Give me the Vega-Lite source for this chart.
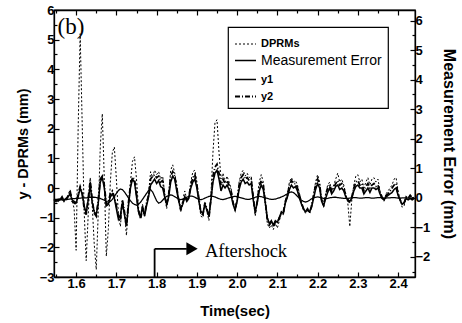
{
  "$schema": "https://vega.github.io/schema/vega-lite/v6.json",
  "width": 361,
  "height": 267,
  "autosize": {"type": "none"},
  "padding": {"left": 54, "top": 10, "right": 47, "bottom": 46},
  "background": "white",
  "config": {
    "view": {"stroke": "black", "strokeWidth": 1.3},
    "axis": {
      "domainColor": "black", "domainWidth": 1.3, "tickColor": "black", "tickWidth": 1.2,
      "labelColor": "black", "titleColor": "black",
      "labelFont": "Liberation Sans", "titleFont": "Liberation Sans",
      "labelFontWeight": "bold", "titleFontWeight": "bold",
      "labelFontSize": 13, "titleFontSize": 15, "grid": false, "labelOverlap": false
    },
    "legend": {
      "orient": "none", "legendX": 174, "legendY": 17,
      "strokeColor": "black", "strokeWidth": 1.2, "fillColor": "white",
      "padding": 6, "symbolType": "stroke", "symbolStrokeColor": "black",
      "symbolSize": 441, "labelFont": "Liberation Sans", "labelColor": "black",
      "labelFontSize": 11, "labelFontWeight": "bold", "rowPadding": 0, "labelOffset": 4
    }
  },
  "datasets": {
    "sig": [
      {"t":1.545,"DPRMs":-0.40,"y1":-0.42,"y2":-0.38,"Measurement Error":-0.05},
      {"t":1.550,"DPRMs":-0.45,"y1":-0.40,"y2":-0.45,"Measurement Error":-0.05},
      {"t":1.555,"DPRMs":-0.35,"y1":-0.45,"y2":-0.35,"Measurement Error":-0.06},
      {"t":1.560,"DPRMs":-0.42,"y1":-0.38,"y2":-0.40,"Measurement Error":-0.05},
      {"t":1.565,"DPRMs":-0.30,"y1":-0.40,"y2":-0.30,"Measurement Error":-0.04},
      {"t":1.570,"DPRMs":-0.45,"y1":-0.42,"y2":-0.45,"Measurement Error":-0.05},
      {"t":1.575,"DPRMs":-0.40,"y1":-0.35,"y2":-0.42,"Measurement Error":-0.06},
      {"t":1.580,"DPRMs":-0.25,"y1":-0.30,"y2":-0.25,"Measurement Error":-0.05},
      {"t":1.585,"DPRMs":-0.05,"y1":-0.20,"y2":-0.10,"Measurement Error":-0.04},
      {"t":1.590,"DPRMs":-0.40,"y1":-0.40,"y2":-0.45,"Measurement Error":-0.03},
      {"t":1.595,"DPRMs":-0.70,"y1":-0.45,"y2":-0.50,"Measurement Error":-0.03},
      {"t":1.600,"DPRMs":-2.10,"y1":-0.50,"y2":-0.55,"Measurement Error":-0.02},
      {"t":1.605,"DPRMs":2.00,"y1":-0.30,"y2":-0.20,"Measurement Error":-0.02},
      {"t":1.610,"DPRMs":5.20,"y1":0.00,"y2":0.05,"Measurement Error":-0.01},
      {"t":1.615,"DPRMs":2.20,"y1":-0.20,"y2":-0.15,"Measurement Error":0.00},
      {"t":1.620,"DPRMs":-0.80,"y1":-0.60,"y2":-0.70,"Measurement Error":0.00},
      {"t":1.625,"DPRMs":-2.45,"y1":-0.85,"y2":-0.90,"Measurement Error":0.00},
      {"t":1.630,"DPRMs":-0.90,"y1":-0.40,"y2":-0.35,"Measurement Error":0.01},
      {"t":1.635,"DPRMs":0.35,"y1":0.10,"y2":0.25,"Measurement Error":0.02},
      {"t":1.640,"DPRMs":-0.60,"y1":-0.50,"y2":-0.40,"Measurement Error":0.02},
      {"t":1.645,"DPRMs":-1.90,"y1":-0.80,"y2":-0.85,"Measurement Error":0.02},
      {"t":1.650,"DPRMs":-2.75,"y1":-0.90,"y2":-0.95,"Measurement Error":0.01},
      {"t":1.655,"DPRMs":-0.80,"y1":-0.50,"y2":-0.40,"Measurement Error":0.00},
      {"t":1.660,"DPRMs":1.40,"y1":0.20,"y2":0.30,"Measurement Error":-0.02},
      {"t":1.665,"DPRMs":2.50,"y1":0.35,"y2":0.40,"Measurement Error":-0.05},
      {"t":1.670,"DPRMs":0.30,"y1":0.00,"y2":0.10,"Measurement Error":-0.08},
      {"t":1.675,"DPRMs":-2.30,"y1":-0.60,"y2":-0.55,"Measurement Error":-0.12},
      {"t":1.680,"DPRMs":-1.40,"y1":-0.55,"y2":-0.45,"Measurement Error":-0.15},
      {"t":1.685,"DPRMs":0.20,"y1":-0.30,"y2":-0.20,"Measurement Error":-0.12},
      {"t":1.690,"DPRMs":1.20,"y1":-0.20,"y2":-0.10,"Measurement Error":-0.05},
      {"t":1.695,"DPRMs":1.38,"y1":-0.35,"y2":-0.30,"Measurement Error":0.05},
      {"t":1.700,"DPRMs":0.30,"y1":-0.70,"y2":-0.60,"Measurement Error":0.15},
      {"t":1.705,"DPRMs":-0.90,"y1":-1.05,"y2":-0.95,"Measurement Error":0.25},
      {"t":1.710,"DPRMs":-1.30,"y1":-0.90,"y2":-1.10,"Measurement Error":0.30},
      {"t":1.715,"DPRMs":-0.40,"y1":-0.50,"y2":-0.40,"Measurement Error":0.28},
      {"t":1.720,"DPRMs":-0.80,"y1":-0.90,"y2":-0.80,"Measurement Error":0.20},
      {"t":1.725,"DPRMs":-1.60,"y1":-1.25,"y2":-1.30,"Measurement Error":0.10},
      {"t":1.730,"DPRMs":-0.60,"y1":-0.60,"y2":-0.50,"Measurement Error":0.00},
      {"t":1.735,"DPRMs":0.20,"y1":0.00,"y2":0.10,"Measurement Error":-0.10},
      {"t":1.740,"DPRMs":0.90,"y1":0.30,"y2":0.35,"Measurement Error":-0.18},
      {"t":1.745,"DPRMs":1.05,"y1":0.20,"y2":0.30,"Measurement Error":-0.22},
      {"t":1.750,"DPRMs":0.30,"y1":-0.30,"y2":-0.20,"Measurement Error":-0.25},
      {"t":1.755,"DPRMs":-0.70,"y1":-0.80,"y2":-0.75,"Measurement Error":-0.22},
      {"t":1.760,"DPRMs":-1.00,"y1":-1.00,"y2":-1.05,"Measurement Error":-0.15},
      {"t":1.765,"DPRMs":-0.55,"y1":-0.60,"y2":-0.70,"Measurement Error":-0.05},
      {"t":1.770,"DPRMs":-0.95,"y1":-0.95,"y2":-0.90,"Measurement Error":0.05},
      {"t":1.775,"DPRMs":-0.50,"y1":-0.60,"y2":-0.50,"Measurement Error":0.15},
      {"t":1.780,"DPRMs":-0.20,"y1":-0.30,"y2":-0.25,"Measurement Error":0.25},
      {"t":1.785,"DPRMs":0.55,"y1":0.10,"y2":0.30,"Measurement Error":0.28},
      {"t":1.790,"DPRMs":0.35,"y1":0.20,"y2":0.40,"Measurement Error":0.20},
      {"t":1.795,"DPRMs":0.60,"y1":0.30,"y2":0.45,"Measurement Error":0.05},
      {"t":1.800,"DPRMs":0.45,"y1":0.15,"y2":0.35,"Measurement Error":-0.10},
      {"t":1.805,"DPRMs":0.55,"y1":0.25,"y2":0.40,"Measurement Error":-0.18},
      {"t":1.810,"DPRMs":0.30,"y1":0.05,"y2":0.20,"Measurement Error":-0.15},
      {"t":1.815,"DPRMs":0.40,"y1":0.00,"y2":0.25,"Measurement Error":-0.08},
      {"t":1.820,"DPRMs":-0.20,"y1":-0.30,"y2":-0.25,"Measurement Error":0.00},
      {"t":1.825,"DPRMs":-0.70,"y1":-0.55,"y2":-0.60,"Measurement Error":0.05},
      {"t":1.830,"DPRMs":-0.20,"y1":-0.30,"y2":-0.20,"Measurement Error":0.08},
      {"t":1.835,"DPRMs":0.60,"y1":0.20,"y2":0.40,"Measurement Error":0.10},
      {"t":1.840,"DPRMs":0.78,"y1":0.40,"y2":0.55,"Measurement Error":0.08},
      {"t":1.845,"DPRMs":0.50,"y1":0.30,"y2":0.40,"Measurement Error":0.04},
      {"t":1.850,"DPRMs":0.10,"y1":-0.10,"y2":0.00,"Measurement Error":0.00},
      {"t":1.855,"DPRMs":-0.40,"y1":-0.45,"y2":-0.40,"Measurement Error":-0.04},
      {"t":1.860,"DPRMs":-0.80,"y1":-0.70,"y2":-0.75,"Measurement Error":-0.06},
      {"t":1.865,"DPRMs":-0.40,"y1":-0.55,"y2":-0.50,"Measurement Error":-0.05},
      {"t":1.870,"DPRMs":-0.10,"y1":-0.30,"y2":-0.25,"Measurement Error":-0.02},
      {"t":1.875,"DPRMs":-0.40,"y1":-0.45,"y2":-0.40,"Measurement Error":0.02},
      {"t":1.880,"DPRMs":-0.30,"y1":-0.35,"y2":-0.30,"Measurement Error":0.05},
      {"t":1.885,"DPRMs":0.20,"y1":0.00,"y2":0.10,"Measurement Error":0.06},
      {"t":1.890,"DPRMs":0.55,"y1":0.20,"y2":0.35,"Measurement Error":0.05},
      {"t":1.895,"DPRMs":0.60,"y1":0.30,"y2":0.45,"Measurement Error":0.02},
      {"t":1.900,"DPRMs":0.20,"y1":0.00,"y2":0.10,"Measurement Error":-0.02},
      {"t":1.905,"DPRMs":-0.40,"y1":-0.45,"y2":-0.35,"Measurement Error":-0.05},
      {"t":1.910,"DPRMs":-0.95,"y1":-0.80,"y2":-0.85,"Measurement Error":-0.06},
      {"t":1.915,"DPRMs":-1.00,"y1":-0.85,"y2":-0.90,"Measurement Error":-0.04},
      {"t":1.920,"DPRMs":-0.50,"y1":-0.55,"y2":-0.50,"Measurement Error":-0.01},
      {"t":1.925,"DPRMs":-0.80,"y1":-0.75,"y2":-0.70,"Measurement Error":0.02},
      {"t":1.930,"DPRMs":-1.10,"y1":-0.95,"y2":-1.00,"Measurement Error":0.05},
      {"t":1.935,"DPRMs":-0.20,"y1":-0.40,"y2":-0.35,"Measurement Error":0.06},
      {"t":1.940,"DPRMs":1.20,"y1":0.20,"y2":0.40,"Measurement Error":0.05},
      {"t":1.945,"DPRMs":2.20,"y1":0.50,"y2":0.70,"Measurement Error":0.03},
      {"t":1.950,"DPRMs":2.30,"y1":0.60,"y2":0.80,"Measurement Error":0.00},
      {"t":1.955,"DPRMs":1.20,"y1":0.30,"y2":0.50,"Measurement Error":-0.03},
      {"t":1.960,"DPRMs":0.30,"y1":-0.10,"y2":0.10,"Measurement Error":-0.05},
      {"t":1.965,"DPRMs":0.50,"y1":0.10,"y2":0.30,"Measurement Error":-0.06},
      {"t":1.970,"DPRMs":0.20,"y1":0.00,"y2":0.15,"Measurement Error":-0.04},
      {"t":1.975,"DPRMs":0.40,"y1":0.10,"y2":0.25,"Measurement Error":-0.02},
      {"t":1.980,"DPRMs":0.20,"y1":-0.05,"y2":0.10,"Measurement Error":0.00},
      {"t":1.985,"DPRMs":0.00,"y1":-0.25,"y2":-0.10,"Measurement Error":0.02},
      {"t":1.990,"DPRMs":-0.50,"y1":-0.55,"y2":-0.50,"Measurement Error":0.04},
      {"t":1.995,"DPRMs":-0.80,"y1":-0.75,"y2":-0.70,"Measurement Error":0.05},
      {"t":2.000,"DPRMs":-0.40,"y1":-0.45,"y2":-0.40,"Measurement Error":0.04},
      {"t":2.005,"DPRMs":0.20,"y1":-0.05,"y2":0.10,"Measurement Error":0.02},
      {"t":2.010,"DPRMs":0.50,"y1":0.20,"y2":0.35,"Measurement Error":0.00},
      {"t":2.015,"DPRMs":0.60,"y1":0.30,"y2":0.45,"Measurement Error":-0.02},
      {"t":2.020,"DPRMs":0.40,"y1":0.15,"y2":0.30,"Measurement Error":-0.04},
      {"t":2.025,"DPRMs":0.50,"y1":0.20,"y2":0.35,"Measurement Error":-0.05},
      {"t":2.030,"DPRMs":0.35,"y1":0.10,"y2":0.25,"Measurement Error":-0.05},
      {"t":2.035,"DPRMs":0.40,"y1":0.15,"y2":0.30,"Measurement Error":-0.03},
      {"t":2.040,"DPRMs":-0.30,"y1":-0.40,"y2":-0.30,"Measurement Error":-0.01},
      {"t":2.045,"DPRMs":-0.95,"y1":-0.80,"y2":-0.85,"Measurement Error":0.02},
      {"t":2.050,"DPRMs":-0.40,"y1":-0.50,"y2":-0.45,"Measurement Error":0.04},
      {"t":2.055,"DPRMs":0.20,"y1":-0.10,"y2":0.05,"Measurement Error":0.05},
      {"t":2.060,"DPRMs":0.45,"y1":0.10,"y2":0.25,"Measurement Error":0.04},
      {"t":2.065,"DPRMs":0.20,"y1":-0.05,"y2":0.10,"Measurement Error":0.02},
      {"t":2.070,"DPRMs":-0.50,"y1":-0.50,"y2":-0.45,"Measurement Error":0.00},
      {"t":2.075,"DPRMs":-1.20,"y1":-1.00,"y2":-1.05,"Measurement Error":-0.02},
      {"t":2.080,"DPRMs":-1.35,"y1":-1.20,"y2":-1.25,"Measurement Error":-0.04},
      {"t":2.085,"DPRMs":-1.25,"y1":-1.10,"y2":-1.15,"Measurement Error":-0.05},
      {"t":2.090,"DPRMs":-1.40,"y1":-1.25,"y2":-1.30,"Measurement Error":-0.05},
      {"t":2.095,"DPRMs":-1.20,"y1":-1.10,"y2":-1.15,"Measurement Error":-0.04},
      {"t":2.100,"DPRMs":-1.35,"y1":-1.15,"y2":-1.20,"Measurement Error":-0.02},
      {"t":2.105,"DPRMs":-1.10,"y1":-1.00,"y2":-1.00,"Measurement Error":0.00},
      {"t":2.110,"DPRMs":-0.85,"y1":-0.80,"y2":-0.85,"Measurement Error":0.03},
      {"t":2.115,"DPRMs":-0.90,"y1":-0.85,"y2":-0.80,"Measurement Error":0.06},
      {"t":2.120,"DPRMs":-0.40,"y1":-0.50,"y2":-0.45,"Measurement Error":0.10},
      {"t":2.125,"DPRMs":-0.20,"y1":-0.30,"y2":-0.25,"Measurement Error":0.14},
      {"t":2.130,"DPRMs":0.20,"y1":-0.05,"y2":0.10,"Measurement Error":0.18},
      {"t":2.135,"DPRMs":0.35,"y1":0.10,"y2":0.25,"Measurement Error":0.20},
      {"t":2.140,"DPRMs":0.20,"y1":0.00,"y2":0.15,"Measurement Error":0.18},
      {"t":2.145,"DPRMs":0.25,"y1":0.05,"y2":0.15,"Measurement Error":0.12},
      {"t":2.150,"DPRMs":0.10,"y1":-0.10,"y2":0.00,"Measurement Error":0.05},
      {"t":2.155,"DPRMs":-0.20,"y1":-0.35,"y2":-0.25,"Measurement Error":-0.02},
      {"t":2.160,"DPRMs":-0.50,"y1":-0.55,"y2":-0.50,"Measurement Error":-0.08},
      {"t":2.165,"DPRMs":-0.75,"y1":-0.70,"y2":-0.70,"Measurement Error":-0.12},
      {"t":2.170,"DPRMs":-0.85,"y1":-0.80,"y2":-0.80,"Measurement Error":-0.14},
      {"t":2.175,"DPRMs":-0.70,"y1":-0.75,"y2":-0.70,"Measurement Error":-0.12},
      {"t":2.180,"DPRMs":-0.85,"y1":-0.80,"y2":-0.85,"Measurement Error":-0.08},
      {"t":2.185,"DPRMs":-0.60,"y1":-0.65,"y2":-0.60,"Measurement Error":-0.03},
      {"t":2.190,"DPRMs":-0.20,"y1":-0.35,"y2":-0.25,"Measurement Error":0.00},
      {"t":2.195,"DPRMs":0.20,"y1":-0.05,"y2":0.10,"Measurement Error":0.02},
      {"t":2.200,"DPRMs":0.45,"y1":0.15,"y2":0.30,"Measurement Error":0.03},
      {"t":2.205,"DPRMs":0.20,"y1":0.00,"y2":0.10,"Measurement Error":0.02},
      {"t":2.210,"DPRMs":-0.40,"y1":-0.45,"y2":-0.40,"Measurement Error":0.00},
      {"t":2.215,"DPRMs":-0.65,"y1":-0.60,"y2":-0.55,"Measurement Error":-0.02},
      {"t":2.220,"DPRMs":-0.20,"y1":-0.35,"y2":-0.25,"Measurement Error":-0.03},
      {"t":2.225,"DPRMs":0.10,"y1":-0.15,"y2":0.00,"Measurement Error":-0.02},
      {"t":2.230,"DPRMs":0.20,"y1":0.00,"y2":0.10,"Measurement Error":0.00},
      {"t":2.235,"DPRMs":-0.10,"y1":-0.20,"y2":-0.10,"Measurement Error":0.01},
      {"t":2.240,"DPRMs":0.10,"y1":-0.10,"y2":0.00,"Measurement Error":0.02},
      {"t":2.245,"DPRMs":0.30,"y1":0.05,"y2":0.15,"Measurement Error":0.02},
      {"t":2.250,"DPRMs":0.50,"y1":0.10,"y2":0.25,"Measurement Error":0.01},
      {"t":2.255,"DPRMs":0.20,"y1":-0.05,"y2":0.10,"Measurement Error":0.00},
      {"t":2.260,"DPRMs":0.30,"y1":0.00,"y2":0.15,"Measurement Error":-0.01},
      {"t":2.265,"DPRMs":0.10,"y1":-0.10,"y2":0.00,"Measurement Error":-0.02},
      {"t":2.270,"DPRMs":-0.20,"y1":-0.30,"y2":-0.25,"Measurement Error":-0.02},
      {"t":2.275,"DPRMs":-0.50,"y1":-0.40,"y2":-0.40,"Measurement Error":-0.02},
      {"t":2.280,"DPRMs":-1.30,"y1":-0.45,"y2":-0.50,"Measurement Error":-0.01},
      {"t":2.285,"DPRMs":-0.40,"y1":-0.35,"y2":-0.30,"Measurement Error":0.00},
      {"t":2.290,"DPRMs":0.10,"y1":-0.10,"y2":0.00,"Measurement Error":0.01},
      {"t":2.295,"DPRMs":0.40,"y1":0.05,"y2":0.20,"Measurement Error":0.01},
      {"t":2.300,"DPRMs":0.45,"y1":0.10,"y2":0.25,"Measurement Error":0.00},
      {"t":2.305,"DPRMs":0.20,"y1":0.00,"y2":0.10,"Measurement Error":-0.01},
      {"t":2.310,"DPRMs":0.30,"y1":0.00,"y2":0.15,"Measurement Error":-0.01},
      {"t":2.315,"DPRMs":0.00,"y1":-0.20,"y2":-0.10,"Measurement Error":0.00},
      {"t":2.320,"DPRMs":0.20,"y1":-0.10,"y2":0.05,"Measurement Error":0.01},
      {"t":2.325,"DPRMs":0.35,"y1":0.00,"y2":0.15,"Measurement Error":0.01},
      {"t":2.330,"DPRMs":0.10,"y1":-0.15,"y2":0.00,"Measurement Error":0.00},
      {"t":2.335,"DPRMs":0.30,"y1":0.00,"y2":0.10,"Measurement Error":-0.01},
      {"t":2.340,"DPRMs":0.35,"y1":0.00,"y2":0.15,"Measurement Error":-0.01},
      {"t":2.345,"DPRMs":0.20,"y1":-0.05,"y2":0.05,"Measurement Error":0.00},
      {"t":2.350,"DPRMs":0.30,"y1":0.00,"y2":0.10,"Measurement Error":0.01},
      {"t":2.355,"DPRMs":-0.10,"y1":-0.20,"y2":-0.15,"Measurement Error":0.01},
      {"t":2.360,"DPRMs":-0.30,"y1":-0.35,"y2":-0.30,"Measurement Error":0.00},
      {"t":2.365,"DPRMs":-0.45,"y1":-0.40,"y2":-0.40,"Measurement Error":-0.01},
      {"t":2.370,"DPRMs":-0.20,"y1":-0.30,"y2":-0.25,"Measurement Error":-0.01},
      {"t":2.375,"DPRMs":-0.10,"y1":-0.25,"y2":-0.20,"Measurement Error":0.00},
      {"t":2.380,"DPRMs":0.00,"y1":-0.20,"y2":-0.10,"Measurement Error":0.00},
      {"t":2.385,"DPRMs":0.10,"y1":-0.15,"y2":0.00,"Measurement Error":0.01},
      {"t":2.390,"DPRMs":0.30,"y1":-0.05,"y2":0.10,"Measurement Error":0.01},
      {"t":2.395,"DPRMs":0.35,"y1":0.00,"y2":0.15,"Measurement Error":0.00},
      {"t":2.400,"DPRMs":-0.10,"y1":-0.25,"y2":-0.20,"Measurement Error":-0.01},
      {"t":2.405,"DPRMs":-0.40,"y1":-0.40,"y2":-0.40,"Measurement Error":-0.01},
      {"t":2.410,"DPRMs":-0.65,"y1":-0.55,"y2":-0.55,"Measurement Error":0.00},
      {"t":2.415,"DPRMs":-0.60,"y1":-0.50,"y2":-0.50,"Measurement Error":0.00},
      {"t":2.420,"DPRMs":-0.30,"y1":-0.35,"y2":-0.30,"Measurement Error":0.00},
      {"t":2.425,"DPRMs":-0.40,"y1":-0.40,"y2":-0.35,"Measurement Error":-0.01},
      {"t":2.430,"DPRMs":-0.20,"y1":-0.35,"y2":-0.25,"Measurement Error":-0.01},
      {"t":2.435,"DPRMs":-0.35,"y1":-0.40,"y2":-0.35,"Measurement Error":0.00},
      {"t":2.440,"DPRMs":-0.30,"y1":-0.35,"y2":-0.30,"Measurement Error":0.00}
    ]
  },
  "layer": [
    {
      "data": {"name": "sig"},
      "transform": [{"fold": ["DPRMs", "y1", "y2"], "as": ["s", "v"]}],
      "mark": {"type": "line", "color": "black"},
      "encoding": {
        "x": {
          "field": "t", "type": "quantitative",
          "scale": {"domain": [1.545, 2.442], "nice": false, "zero": false},
          "axis": {
            "orient": "bottom", "title": "Time(sec)",
            "values": [1.55,1.6,1.65,1.7,1.75,1.8,1.85,1.9,1.95,2.0,2.05,2.1,2.15,2.2,2.25,2.3,2.35,2.4],
            "labelExpr": "abs(datum.value*10-round(datum.value*10))<0.001 ? format(datum.value,'.1f') : ''",
            "tickSize": {"condition": {"test": "abs(datum.value*10-round(datum.value*10))<0.001", "value": -5}, "value": -3},
            "labelPadding": 5, "titlePadding": 11, "titleFontSize": 15, "labelOverlap": false
          }
        },
        "y": {
          "field": "v", "type": "quantitative",
          "scale": {"domain": [-3, 6], "nice": false, "zero": false},
          "axis": {
            "orient": "left", "title": "y - DPRMs (mm)",
            "values": [-3,-2.5,-2,-1.5,-1,-0.5,0,0.5,1,1.5,2,2.5,3,3.5,4,4.5,5,5.5,6],
            "labelExpr": "abs(datum.value-round(datum.value))<0.001 ? format(datum.value,'d') : ''",
            "tickSize": {"condition": {"test": "abs(datum.value-round(datum.value))<0.001", "value": -5}, "value": -3},
            "labelPadding": 5, "titlePadding": 9, "titleFontSize": 14.5, "labelOverlap": false
          }
        },
        "strokeDash": {
          "field": "s", "type": "nominal",
          "scale": {"domain": ["DPRMs", "Measurement Error", "y1", "y2"], "range": [[2, 2], [1, 0], [1, 0], [5, 2, 1, 2]]},
          "legend": {
            "title": null,
            "encode": {"labels": {"update": {
              "fontSize": {"signal": "datum.label === 'Measurement Error' ? 14 : 11"},
              "fontWeight": {"signal": "datum.label === 'Measurement Error' ? 'normal' : 'bold'"}
            }}}
          }
        },
        "strokeWidth": {
          "field": "s", "type": "nominal",
          "scale": {"domain": ["DPRMs", "Measurement Error", "y1", "y2"], "range": [1, 1.8, 0.8, 1]},
          "legend": {"title": null}
        }
      }
    },
    {
      "data": {"name": "sig"},
      "transform": [{"fold": ["Measurement Error"], "as": ["s", "v"]}],
      "mark": {"type": "line", "color": "black"},
      "encoding": {
        "x": {
          "field": "t", "type": "quantitative",
          "axis": {
            "orient": "top", "title": null, "labels": false,
            "values": [1.55,1.6,1.65,1.7,1.75,1.8,1.85,1.9,1.95,2.0,2.05,2.1,2.15,2.2,2.25,2.3,2.35,2.4],
            "tickSize": {"condition": {"test": "abs(datum.value*10-round(datum.value*10))<0.001", "value": -5}, "value": -3}
          }
        },
        "y": {
          "field": "v", "type": "quantitative",
          "scale": {"domain": [-2.68, 6.36], "nice": false, "zero": false},
          "axis": {
            "orient": "right", "title": "Measurement Error (mm)",
            "values": [-2.5,-2,-1.5,-1,-0.5,0,0.5,1,1.5,2,2.5,3,3.5,4,4.5,5,5.5,6],
            "labelExpr": "abs(datum.value-round(datum.value))<0.001 ? format(datum.value,'d') : ''",
            "tickSize": {"condition": {"test": "abs(datum.value-round(datum.value))<0.001", "value": -5}, "value": -3},
            "labelPadding": 5, "titlePadding": 11, "titleFontSize": 16
          }
        },
        "strokeDash": {"field": "s", "type": "nominal"},
        "strokeWidth": {"field": "s", "type": "nominal"}
      }
    },
    {
      "layer": [
        {
          "data": {"values": [{}]},
          "mark": {"type": "text", "font": "Liberation Serif", "fontSize": 23, "align": "left", "baseline": "alphabetic", "color": "black"},
          "encoding": {
            "x": {"datum": 1.554, "axis": null},
            "y": {"datum": 5.2, "axis": null, "scale": {"domain": [-3, 6], "nice": false, "zero": false}},
            "text": {"value": "(b)"}
          }
        },
        {
          "data": {"values": [{}]},
          "mark": {"type": "rule", "strokeWidth": 1.8, "color": "black"},
          "encoding": {"x": {"datum": 1.795, "axis": null}, "y": {"datum": -3, "axis": null}, "y2": {"datum": -2.05}}
        },
        {
          "data": {"values": [{}]},
          "mark": {"type": "rule", "strokeWidth": 1.8, "color": "black"},
          "encoding": {"x": {"datum": 1.795, "axis": null}, "x2": {"datum": 1.875}, "y": {"datum": -2.05, "axis": null}}
        },
        {
          "data": {"values": [{}]},
          "mark": {"type": "point", "shape": "triangle-right", "filled": true, "color": "black", "opacity": 1, "size": 170},
          "encoding": {"x": {"datum": 1.888, "axis": null}, "y": {"datum": -2.05, "axis": null}}
        },
        {
          "data": {"values": [{}]},
          "mark": {"type": "text", "font": "Liberation Serif", "fontSize": 18.5, "align": "left", "baseline": "alphabetic", "color": "black"},
          "encoding": {"x": {"datum": 1.92, "axis": null}, "y": {"datum": -2.33, "axis": null}, "text": {"value": "Aftershock"}}
        }
      ]
    }
  ],
  "resolve": {"scale": {"y": "independent"}, "axis": {"x": "independent"}}
}
